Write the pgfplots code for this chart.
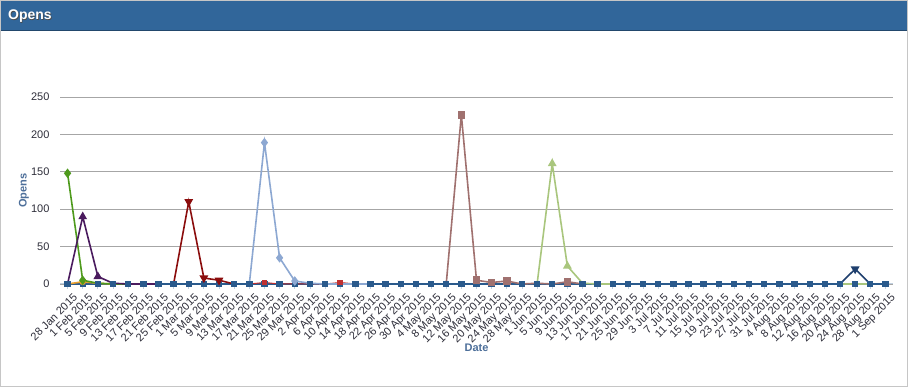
\documentclass[border=0pt]{standalone}
\usepackage{pgfplots}
\pgfplotsset{compat=1.18}
\usepackage{fontspec}
\setmainfont{Liberation Sans}
\definecolor{hdr}{HTML}{31669A}
\definecolor{axblue}{HTML}{C0D0E0}
\definecolor{ttl}{HTML}{4D6F9A}
\definecolor{lbl}{HTML}{2E2E3A}
\definecolor{cgreen}{HTML}{4E9A1C}
\definecolor{corange}{HTML}{E8A030}
\definecolor{cpurple}{HTML}{4A1B5E}
\definecolor{cdred}{HTML}{8B0D0D}
\definecolor{cred}{HTML}{C03030}
\definecolor{clblue}{HTML}{8DA8D2}
\definecolor{cbrown}{HTML}{A0716F}
\definecolor{clgreen}{HTML}{A9C67D}
\definecolor{cnavy}{HTML}{1F3F6E}
\definecolor{czero}{HTML}{2A5A8C}
\begin{document}
\begin{tikzpicture}[x=1pt,y=1pt]
\useasboundingbox (0,0) rectangle (908,387);
\fill[white] (0,0) rectangle (908,387);
\fill[hdr] (0,356) rectangle (908,387);
\draw[hdr!70!black,line width=1pt] (0,356) -- (908,356);
\draw[gray!45,line width=1pt] (0.5,0.5) rectangle (907.5,386.5);
\node[anchor=base west,inner sep=0pt,text=black!70,font=\bfseries\fontsize{14}{16}\selectfont] at (8.6,366.4) {Opens};
\node[anchor=base west,inner sep=0pt,text=white,font=\bfseries\fontsize{14}{16}\selectfont] at (8,367) {Opens};
\begin{axis}[
  at={(60pt,103pt)}, anchor=south west,
  scale only axis, width=833pt, height=187pt,
  xmin=-0.5, xmax=54.5, ymin=0, ymax=250,
  clip=false,
  axis x line*=bottom, axis y line*=left,
  x axis line style={draw=axblue,line width=1pt,-},
  y axis line style={draw=none},
  ytick={0,50,100,150,200,250},
  ymajorgrids, grid style={draw=black!35,line width=0.8pt},
  ytick style={draw=none},
  xtick={0,...,54},
  xtick style={draw=axblue,line width=0.8pt},
  tick align=outside, major tick length=5pt,
  xticklabels={28 Jan 2015,1 Feb 2015,5 Feb 2015,9 Feb 2015,13 Feb 2015,17 Feb 2015,21 Feb 2015,25 Feb 2015,1 Mar 2015,5 Mar 2015,9 Mar 2015,13 Mar 2015,17 Mar 2015,21 Mar 2015,25 Mar 2015,29 Mar 2015,2 Apr 2015,6 Apr 2015,10 Apr 2015,14 Apr 2015,18 Apr 2015,22 Apr 2015,26 Apr 2015,30 Apr 2015,4 May 2015,8 May 2015,12 May 2015,16 May 2015,20 May 2015,24 May 2015,28 May 2015,1 Jun 2015,5 Jun 2015,9 Jun 2015,13 Jun 2015,17 Jun 2015,21 Jun 2015,25 Jun 2015,29 Jun 2015,3 Jul 2015,7 Jul 2015,11 Jul 2015,15 Jul 2015,19 Jul 2015,23 Jul 2015,27 Jul 2015,31 Jul 2015,4 Aug 2015,8 Aug 2015,12 Aug 2015,16 Aug 2015,20 Aug 2015,24 Aug 2015,28 Aug 2015,1 Sep 2015},
  x tick label style={rotate=45,anchor=north east,font=\fontsize{11}{12}\selectfont,text=lbl,inner sep=1pt,xshift=2pt,yshift=-5pt},
  y tick label style={font=\fontsize{11}{12}\selectfont,text=lbl,/pgf/number format/assume math mode=true,xshift=-2pt},
  xlabel={Date}, ylabel={Opens},
  xlabel style={at={(axis description cs:0.5,-0.342)},anchor=center,font=\bfseries\fontsize{11}{12}\selectfont,text=ttl},
  ylabel style={at={(axis description cs:-0.0432,0.5)},anchor=center,rotate=0,font=\bfseries\fontsize{11}{12}\selectfont,text=ttl},
  every axis plot/.append style={line width=1.6pt},
]
% zero series with squares
\addplot[czero,line width=1.2pt,mark=square*,mark size=2.6pt] coordinates {
(0,0)(1,0)(2,0)(3,0)(4,0)(5,0)(6,0)(7,0)(8,0)(9,0)(10,0)(11,0)(12,0)(13,0)(14,0)(15,0)(16,0)(17,0)(18,0)(19,0)(20,0)(21,0)(22,0)(23,0)(24,0)(25,0)(26,0)(27,0)(28,0)(29,0)(30,0)(31,0)(32,0)(33,0)(34,0)(35,0)(36,0)(37,0)(38,0)(39,0)(40,0)(41,0)(42,0)(43,0)(44,0)(45,0)(46,0)(47,0)(48,0)(49,0)(50,0)(51,0)(52,0)(53,0)(54,0)};
% orange
\addplot[corange,mark=*,mark size=2.5pt,mark indices={2}] coordinates {(0,0)(1,3)(2,1)(3,0)};
% green diamond
\addplot[cgreen,mark=diamond*,mark size=3.5pt,mark indices={1,2}] coordinates {(0,148)(1,5)(2,1)(3,0)(4,0)};
% purple triangle
\addplot[cpurple,mark=triangle*,mark size=3.5pt,mark indices={2,3}] coordinates {(0,0)(1,90)(2,10)(3,1)(4,0)(5,0)(6,0)};
% dark red triangle down
\addplot[cdred,mark=triangle*,mark size=3.5pt,mark options={rotate=180},mark indices={2,3,4}] coordinates {(7,0)(8,110)(9,8)(10,5)(11,0)};
% red small
\addplot[cred,line width=1pt,mark=square*,mark size=2.2pt,mark indices={2,7}] coordinates {(12,0)(13,2)(14,0)(15,0)(16,0)(17,0)(18,2)(19,0)};
% light blue diamond
\addplot[clblue,mark=diamond*,mark size=3.5pt,mark indices={2,3,4}] coordinates {(12,0)(13,189)(14,35)(15,4)(16,1)(17,0)(18,0)(19,0)(20,0)};
% brown square
\addplot[cbrown,mark=square*,mark size=3pt,mark indices={2,3,4,5,9}] coordinates {(25,0)(26,226)(27,5)(28,2)(29,4)(30,0)(31,1)(32,0)(33,3)(34,0)};
% light green triangle
\addplot[clgreen,mark=triangle*,mark size=3.5pt,mark indices={2,3}] coordinates {(31,0)(32,161)(33,24)(34,1)(35,0)(36,0)};
\addplot[clgreen,mark=none] coordinates {(51,0)(52,0)(53,0)};
% navy triangle down
\addplot[cnavy,mark=triangle*,mark size=3.5pt,mark options={rotate=180},mark indices={2}] coordinates {(51,0)(52,20)(53,0)};
\end{axis}
\end{tikzpicture}
\end{document}
